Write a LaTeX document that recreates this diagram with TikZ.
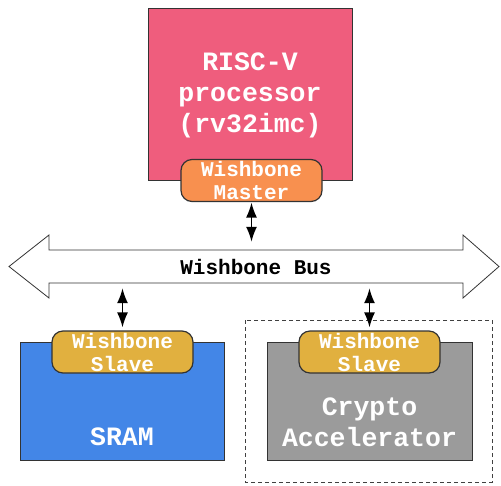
\documentclass[tikz,border=0pt]{standalone}
\usepackage{fontspec}
\setmonofont{Liberation Mono}
\usetikzlibrary{arrows.meta}

\definecolor{cpured}{HTML}{EF5D7D}
\definecolor{masterorange}{HTML}{F8904F}
\definecolor{slavegold}{HTML}{E1B03F}
\definecolor{sramblue}{HTML}{4386E7}
\definecolor{cryptogray}{HTML}{9B9B9B}

\tikzset{
    block/.style={draw=black!80, line width=0.8pt, inner sep=0pt},
    bigtext/.style={text=white, align=center, font=\ttfamily\bfseries\fontsize{26.5}{31}\selectfont},
    port/.style={draw=black!80, line width=1.2pt, rounded corners=11pt, inner sep=0pt,
        minimum width=141pt, minimum height=42pt, text=white, align=center,
        font=\ttfamily\bfseries\fontsize{21}{23}\selectfont},
    link/.style={line width=1.6pt, {Latex[length=15pt,width=11pt]}-{Latex[length=15pt,width=11pt]}}
}

\begin{document}
\begin{tikzpicture}[x=1pt, y=-1pt]
        \useasboundingbox (0,0) rectangle (501,485);

        % Processor and its master port:
        \node[block, fill=cpured, minimum width=204pt, minimum height=172pt] (cpu) at (250, 94) {};
        \node[bigtext] (cputext) at (250, 95) {RISC-V\\processor\\(rv32imc)};
        \node[port, fill=masterorange] (master) at (251.5, 180.5) {Wishbone\\Master};

        % Bus:
        \draw[draw=black!80, line width=0.8pt, fill=white] (9, 266.5) -- (49, 235) -- (49, 250) -- (463, 250) -- (463, 235)
            -- (499, 266.5) -- (463, 298) -- (463, 283) -- (49, 283) -- (49, 298) -- cycle;
        \node[minimum width=414pt, minimum height=33pt, inner sep=0pt,
            font=\ttfamily\bfseries\fontsize{21}{23}\selectfont] (bus) at (256, 266.5) {Wishbone Bus};

        % Memory:
        \node[block, fill=sramblue, minimum width=204pt, minimum height=118pt] (sram) at (122, 401) {};
        \node[bigtext] (sramtext) at (122, 437) {SRAM};
        \node[port, fill=slavegold] (sramslave) at (122.5, 352) {Wishbone\\Slave};

        % Accelerator:
        \draw[draw=black!75, line width=0.8pt, dash pattern=on 4pt off 3pt] (245, 320) rectangle (492, 482);
        \node[block, fill=cryptogray, minimum width=205pt, minimum height=118pt] (crypto) at (369.5, 401) {};
        \node[bigtext] (cryptotext) at (369.5, 422) {Crypto\\Accelerator};
        \node[port, fill=slavegold] (cryptoslave) at (369.5, 352) {Wishbone\\Slave};

        % Links to the bus:
        \draw[link, shorten <=0.5pt, shorten >=8pt] (master.south) -- (master.south |- bus.north);
        \draw[link, shorten <=5pt, shorten >=3pt] (sramslave.north |- bus.south) -- (sramslave.north);
        \draw[link, shorten <=5pt, shorten >=3pt] (cryptoslave.north |- bus.south) -- (cryptoslave.north);
    \end{tikzpicture}
\end{document}
